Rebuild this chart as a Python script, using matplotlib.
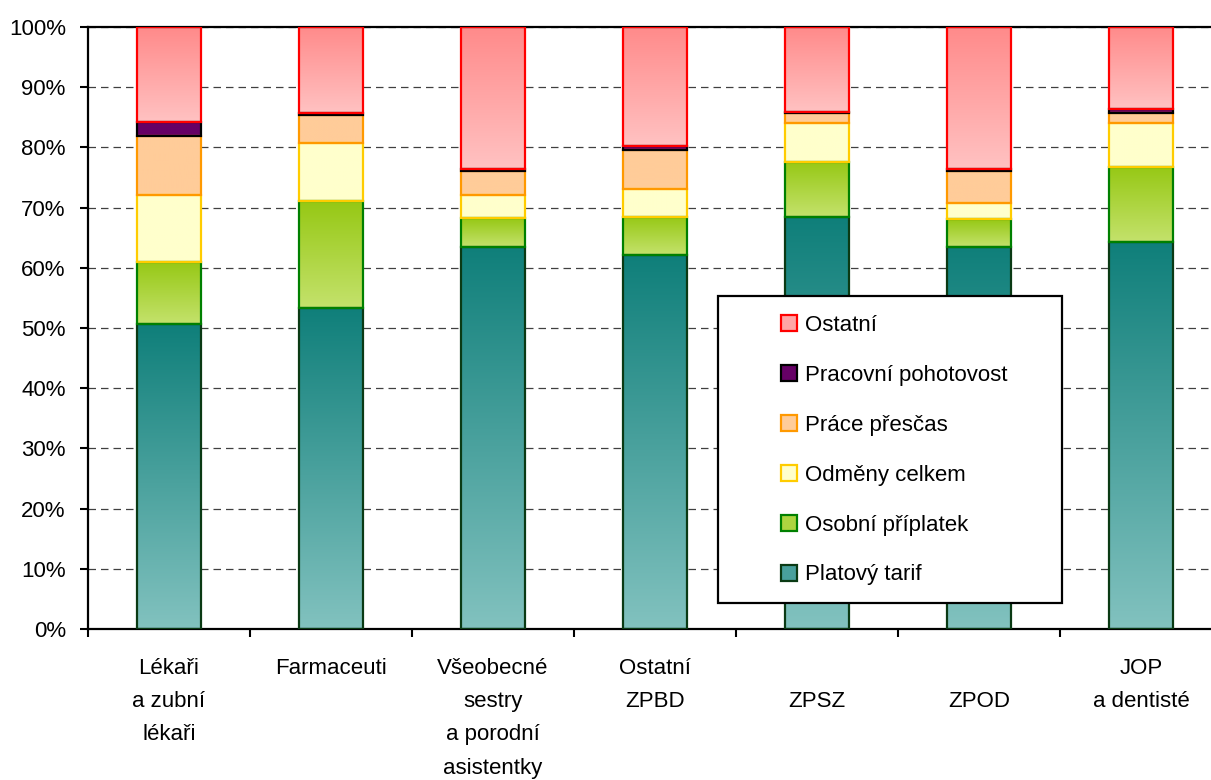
import numpy as np
import matplotlib
matplotlib.use("Agg")
import matplotlib.pyplot as plt
from matplotlib.colors import LinearSegmentedColormap
from matplotlib.patches import Patch, Rectangle

plt.rcParams['font.family'] = ['Liberation Sans', 'DejaVu Sans']
plt.rcParams['font.size'] = 16

# data (shares of salary components, %)
categories = ["Lékaři\na zubní\nlékaři", "Farmaceuti", "Všeobecné\nsestry\na porodní\nasistentky",
              "Ostatní\nZPBD", "\nZPSZ", "\nZPOD", "JOP\na dentisté"]
platovy_tarif = [50.6, 53.4, 63.5, 62.1, 68.4, 63.5, 64.3]
osobni_priplatek = [10.4, 17.7, 4.8, 6.4, 9.2, 4.6, 12.5]
odmeny_celkem = [11.1, 9.6, 3.8, 4.6, 6.4, 2.6, 7.2]
prace_prescas = [9.8, 4.7, 4.0, 6.5, 1.7, 5.4, 1.7]
pracovni_pohotovost = [2.4, 0.3, 0.3, 0.6, 0.2, 0.3, 0.6]
ostatni = [15.7, 14.3, 23.6, 19.8, 14.1, 23.6, 13.7]

series_names = ["Platový tarif", "Osobní příplatek", "Odměny celkem",
                "Práce přesčas", "Pracovní pohotovost", "Ostatní"]
series_values = [platovy_tarif, osobni_priplatek, odmeny_celkem,
                 prace_prescas, pracovni_pohotovost, ostatni]
# (bottom colour, top colour, edge colour)
styles = [("#82c2bf", "#0f7f7a", "#0a3a14"),
          ("#c4e26c", "#96c814", "#008000"),
          ("#ffffcc", "#ffffcc", "#ffcc00"),
          ("#ffcc99", "#ffcc99", "#ff9900"),
          ("#660066", "#660066", "#000000"),
          ("#ffc2c2", "#ff8a8a", "#ff0000")]

fig = plt.figure(figsize=(12.11, 7.80), dpi=100)
ax = fig.add_axes([88 / 1211, 151 / 780, 1134 / 1211, 602 / 780])

x = np.arange(len(categories))
width = 0.40
bottom = np.zeros(len(categories))
grad = np.linspace(0, 1, 256).reshape(-1, 1)

for vals, (c_lo, c_hi, ec) in zip(series_values, styles):
    vals = np.array(vals)
    bars = ax.bar(x, vals, width, bottom=bottom, facecolor="none", edgecolor=ec,
                  linewidth=1.6, zorder=3)
    cmap = LinearSegmentedColormap.from_list("g", [c_lo, c_hi])
    for r in bars:
        x0, y0 = r.get_x(), r.get_y()
        im = ax.imshow(grad, cmap=cmap, origin="lower", aspect="auto",
                       extent=(x0, x0 + r.get_width(), y0, y0 + r.get_height()),
                       zorder=2.5, interpolation="bilinear")
        im.set_clip_path(r)
    bottom += vals

ax.set_xlim(-0.5, len(categories) - 0.5)
ax.set_ylim(0, 100)

ax.set_yticks(np.arange(0, 101, 10))
ax.set_yticklabels([f"{v}%" for v in range(0, 101, 10)])
ax.yaxis.grid(True, linestyle=(0, (6, 4)), color="#404040", linewidth=0.9, zorder=1)
ax.set_axisbelow(True)

ax.set_xticks(x)
ax.set_xticklabels(categories, va="top")
for t in ax.get_xticklabels():
    t.set_linespacing(1.76)
ax.set_xticks(np.arange(-0.5, len(categories), 1), minor=True)
ax.tick_params(axis="x", which="major", length=0, pad=21)
ax.tick_params(axis="x", which="minor", length=6, width=1.5, direction="out")
ax.tick_params(axis="y", length=6, width=1.5, direction="out", pad=10)

for s in ["left", "bottom", "top"]:
    ax.spines[s].set_linewidth(1.6)
    ax.spines[s].set_color("black")
ax.spines["right"].set_visible(False)

# legend box
box = Rectangle((718 / 1211, 1 - 603 / 780), 344 / 1211, 307 / 780,
                transform=fig.transFigure, facecolor="white", edgecolor="black",
                linewidth=1.6, zorder=10)
fig.patches.append(box)

handles = []
for name, (c_lo, c_hi, ec) in zip(series_names, styles):
    mid = LinearSegmentedColormap.from_list("g", [c_lo, c_hi])(0.5)
    handles.append(Patch(facecolor=mid, edgecolor=ec, linewidth=1.6, label=name))
leg = fig.legend(handles[::-1], series_names[::-1], loc="upper left",
                 bbox_to_anchor=(781 / 1211, 1 - 315 / 780), frameon=False,
                 borderpad=0, borderaxespad=0, handlelength=0.72, handleheight=0.72,
                 handletextpad=0.35, labelspacing=1.3, fontsize=16)
leg.set_zorder(11)

fig.savefig("out.png", dpi=100)
